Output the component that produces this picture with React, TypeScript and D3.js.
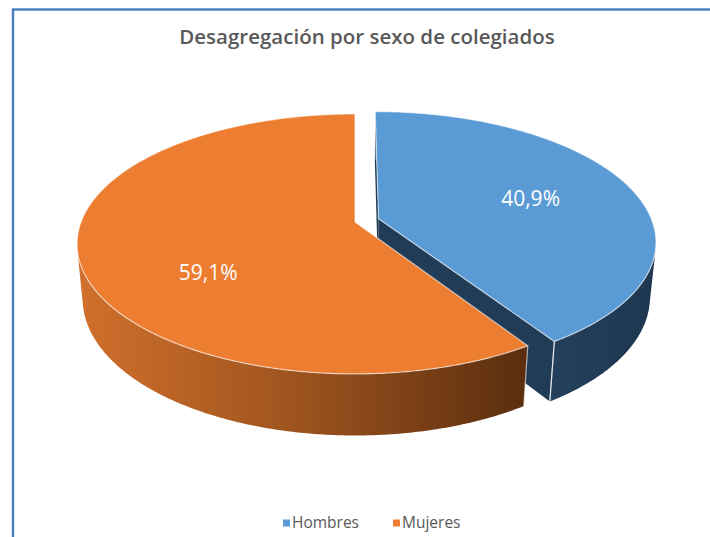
import React from 'react';
import * as d3 from 'd3';

// ---- data ----
const title = 'Desagregación por sexo de colegiados';
const categories = ['Hombres', 'Mujeres'];
const values = [40.9, 59.1];
const valueLabels = ['40,9%', '59,1%'];
const explodedSlices = [true, false];

// ---- style ----
const topColors = ['#5B9BD5', '#ED7D31'];
const sideStops = [
  ['#24415D', '#213C57', '#1E3751'],
  ['#D0702C', '#A2561F', '#5A2E0F'],
];
const legendColors = ['#5B9BD5', '#ED7D31'];
const labelRadius = [0.6, 0.55];
const labelHeight = [0, -0.12];

const W = 710;
const H = 537;
const CX = 355;
const CY = 222;
const PHI = Math.asin(0.461);
const DIST = 5.26;
const FOCAL = 1441;
const THICK = 0.228;
const EXPLODE = 0.09;

function project(x: number, y: number, z: number): [number, number] {
  const dp = z * Math.cos(PHI) - y * Math.sin(PHI);
  const hp = z * Math.sin(PHI) + y * Math.cos(PHI);
  const s = FOCAL / (DIST + dp);
  return [CX + x * s, CY - hp * s];
}

function samples(a0: number, a1: number): number[] {
  const n = Math.max(2, Math.ceil((a1 - a0) / (Math.PI / 360)));
  return d3.range(n + 1).map((i) => a0 + ((a1 - a0) * i) / n);
}

const line = d3.line<[number, number]>();

export default function App() {
  const pie = d3.pie<number>().sort(null).value((d) => d).startAngle(0).endAngle(Math.PI * 2);
  const arcs = pie(values);
  const B0 = DIST * Math.cos(PHI);

  const slices = arcs.map((a, i) => {
    const a0 = a.startAngle;
    const a1 = a.endAngle;
    const mid = (a0 + a1) / 2;
    const ox = explodedSlices[i] ? EXPLODE * Math.sin(mid) : 0;
    const oz = explodedSlices[i] ? EXPLODE * Math.cos(mid) : 0;
    const rim = (t: number, y: number) => project(ox + Math.sin(t), y, oz + Math.cos(t));
    const cTop = project(ox, 0, oz);
    const cBot = project(ox, -THICK, oz);

    const topPts: [number, number][] = [cTop, ...samples(a0, a1).map((t) => rim(t, 0))];
    const topPath = line(topPts) + 'Z';

    // outer wall visibility
    const A = ox;
    const B = B0 + oz;
    const M = Math.hypot(A, B);
    const delta = Math.atan2(A, B);
    const w = Math.acos(1 / M);
    const v0 = Math.max(a0, delta + Math.PI - w);
    const v1 = Math.min(a1, delta + Math.PI + w);
    let wallPath: string | null = null;
    let wallX: [number, number] = [0, 0];
    const edges: [number, number][][] = [];
    if (v1 > v0) {
      const ts = samples(v0, v1);
      const up = ts.map((t) => rim(t, 0));
      const dn = ts.slice().reverse().map((t) => rim(t, -THICK));
      const pts = [...up, ...dn];
      wallPath = line(pts) + 'Z';
      const xs = pts.map((p) => p[0]);
      wallX = [d3.min(xs)!, d3.max(xs)!];
      if (Math.abs(v0 - a0) < 1e-9) edges.push([rim(a0, 0), rim(a0, -THICK)]);
      if (Math.abs(v1 - a1) < 1e-9) edges.push([rim(a1, 0), rim(a1, -THICK)]);
    }

    const faces: string[] = [];
    const dot0 = ox * Math.cos(a0) - Math.sin(a0) * B;
    const dot1 = -ox * Math.cos(a1) + Math.sin(a1) * B;
    const face = (t: number) =>
      line([cTop, rim(t, 0), rim(t, -THICK), cBot]) + 'Z';
    if (dot0 > 1e-6) {
      faces.push(face(a0));
      edges.push([rim(a0, 0), rim(a0, -THICK)]);
    }
    if (dot1 > 1e-6) {
      faces.push(face(a1));
      edges.push([rim(a1, 0), rim(a1, -THICK)]);
    }

    const depth = oz + 0.5 * Math.cos(mid);
    const lr = labelRadius[i];
    const labelPos = project(ox + lr * Math.sin(mid), labelHeight[i], oz + lr * Math.cos(mid));
    return { i, topPath, wallPath, wallX, faces, edges, depth, labelPos };
  });

  const order = slices.slice().sort((p, q) => q.depth - p.depth);

  const legendX = [283, 393];

  return (
    <svg
      width={W}
      height={H}
      style={{ position: 'absolute', left: 0, top: 0, background: '#fff' }}
      fontFamily='"Open Sans", "Noto Sans", sans-serif'
    >
      <defs>
        {slices.map((s) => (
          <linearGradient
            key={s.i}
            id={`side${s.i}`}
            gradientUnits="userSpaceOnUse"
            x1={s.wallX[0]}
            x2={s.wallX[1]}
            y1={0}
            y2={0}
          >
            <stop offset="0" stopColor={sideStops[s.i][0]} />
            <stop offset="0.45" stopColor={sideStops[s.i][1]} />
            <stop offset="1" stopColor={sideStops[s.i][2]} />
          </linearGradient>
        ))}
      </defs>
      <rect x={0} y={0} width={W} height={H} fill="#fff" />
      <rect x={13} y={9.5} width={W + 20} height={H + 20} fill="none" stroke="#4A7EBF" strokeWidth={2.4} />
      <text x={367} y={44} textAnchor="middle" fontSize={20.5} fontWeight={600} fill="#595959">
        {title}
      </text>

      {order.map((s) => (
        <g key={s.i}>
          {s.wallPath && <path d={s.wallPath} fill={`url(#side${s.i})`} />}
          {s.faces.map((d, k) => (
            <path key={k} d={d} fill={sideStops[s.i][1]} />
          ))}
          {s.edges.map((e, k) => (
            <path key={'e' + k} d={line(e)!} stroke="rgba(255,255,255,0.6)" strokeWidth={1.2} fill="none" />
          ))}
          <path d={s.topPath} fill={topColors[s.i]} stroke="rgba(255,255,255,0.6)" strokeWidth={1.2} strokeLinejoin="round" />
        </g>
      ))}

      {slices.map((s) => (
        <text
          key={'l' + s.i}
          x={s.labelPos[0]}
          y={s.labelPos[1]}
          textAnchor="middle"
          dominantBaseline="central"
          fontSize={21}
          fill="#fff"
        >
          {valueLabels[s.i]}
        </text>
      ))}

      {categories.map((c, i) => (
        <g key={c}>
          <rect x={legendX[i]} y={519.5} width={7} height={7} fill={legendColors[i]} />
          <text x={legendX[i] + 9} y={528} fontSize={15.5} fill="#595959">
            {c}
          </text>
        </g>
      ))}
    </svg>
  );
}
